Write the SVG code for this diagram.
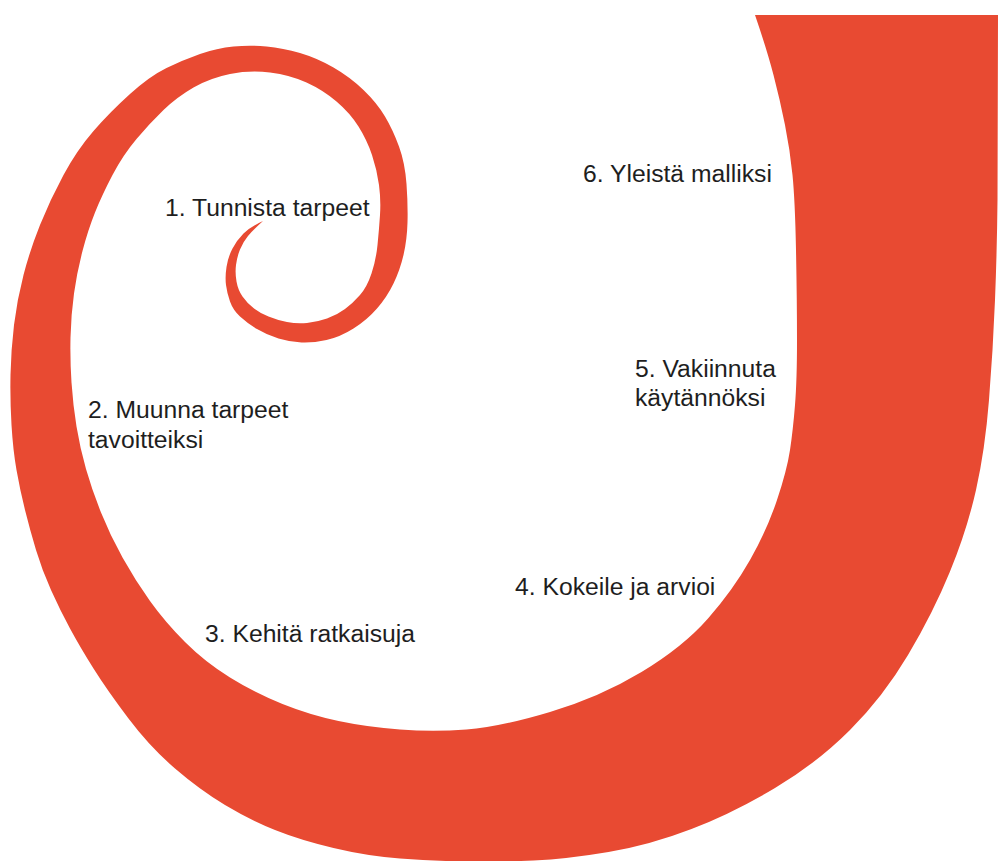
<svg xmlns="http://www.w3.org/2000/svg" width="998" height="861" viewBox="0 0 998 861">
<style>
.lbl{font-family:"Liberation Sans",Arial,sans-serif;font-size:24.7px;fill:#1e1e1e}
.spiral{fill:#E84A32}
</style>
<rect width="998" height="861" fill="#ffffff"/>
<g id="spiral">
<path class="spiral" d="M263,221 Q250,227 243.5,233.5 Q237,240 232.5,248.5 Q228,257 226.5,267 Q225,277 226,285 Q227,293 230,301.5 Q233,310 240,316.5 Q247,323 257,329 Q267,335 278.5,338.5 Q290,342 301.5,342.5 Q313,343 326.5,340 Q340,337 353.5,328.5 Q367,320 377,308.5 Q387,297 393.5,283.5 Q400,270 403.5,255 Q407,240 407.5,222.5 Q408,205 406.5,184 Q405,163 399,146.5 Q393,130 385,116.5 Q377,103 363.5,90 Q350,77 333.5,67.5 Q317,58 300,53 Q283,48 266.5,46.5 Q250,45 233.5,46.5 Q217,48 200,54 Q183,60 166.5,68 Q150,76 130,94 Q110,112 93.5,131 Q77,150 63.5,175 Q50,200 40,225 Q30,250 23.5,275 Q17,300 14,325 Q11,350 10.5,375 Q10,400 11.5,425 Q13,450 16.5,470 Q20,490 25,510 Q30,530 36,550 Q42,570 51,590 Q60,610 70,628.5 Q80,647 93.5,668.5 Q107,690 128.5,718.5 Q150,747 175,768.5 Q200,790 225,805 Q250,820 275,830 Q300,840 333.5,848 Q367,856 400,858.5 Q433,861 466.5,861.5 Q500,862 533.5,860.5 Q567,859 608.5,852 Q650,845 691.5,829 Q733,813 775,788 Q817,763 850,730 Q883,697 908,655 Q933,613 950,571.5 Q967,530 976,490 Q985,450 989,400 Q993,350 995,300 Q997,250 997.5,200 L998,15 L755,15 Q767,50 773.5,75 Q780,100 785,125 Q790,150 792.5,175 Q795,200 796,250 Q797,300 797,340 Q797,380 795,405 Q793,430 790,450 Q787,470 777,500 Q767,530 750,560 Q733,590 708,618.5 Q683,647 641.5,672 Q600,697 550,712 Q500,727 466.5,729.5 Q433,732 400,729.5 Q367,727 338.5,721 Q310,715 282.5,704 Q255,693 230,677.5 Q205,662 185,642 Q165,622 150,601 Q135,580 122.5,557.5 Q110,535 101,512.5 Q92,490 86,469 Q80,448 76.5,426.5 Q73,405 71.5,382.5 Q70,360 70.5,337.5 Q71,315 74,293.5 Q77,272 82.5,251 Q88,230 95,212.5 Q102,195 112.5,175 Q123,155 136.5,139 Q150,123 163.5,110 Q177,97 193.5,87.5 Q210,78 230,74 Q250,70 270,72.5 Q290,75 306.5,82.5 Q323,90 336.5,101.5 Q350,113 358.5,126.5 Q367,140 372,155 Q377,170 379,185 Q381,200 380,215 Q379,230 377.5,245 Q376,260 371.5,273.5 Q367,287 360,295 Q353,303 345,309 Q337,315 327,318.5 Q317,322 307,323 Q297,324 287,322 Q277,320 268.5,316.5 Q260,313 253.5,308 Q247,303 242.5,296.5 Q238,290 236.5,281.5 Q235,273 236,265 Q237,257 240,249.5 Q243,242 248,236 Q253,230 263,221 Z"/>
</g>
<g id="connectors"></g>
<g id="step1"><text class="lbl" x="165" y="216">1. Tunnista tarpeet</text></g>
<g id="step2"><text class="lbl" x="88" y="418">2. Muunna tarpeet</text><text class="lbl" x="88" y="448">tavoitteiksi</text></g>
<g id="step3"><text class="lbl" x="205" y="642">3. Kehitä ratkaisuja</text></g>
<g id="step4"><text class="lbl" x="515" y="595">4. Kokeile ja arvioi</text></g>
<g id="step5"><text class="lbl" x="635" y="377">5. Vakiinnuta</text><text class="lbl" x="635" y="406">käytännöksi</text></g>
<g id="step6"><text class="lbl" x="583" y="182">6. Yleistä malliksi</text></g>
</svg>
